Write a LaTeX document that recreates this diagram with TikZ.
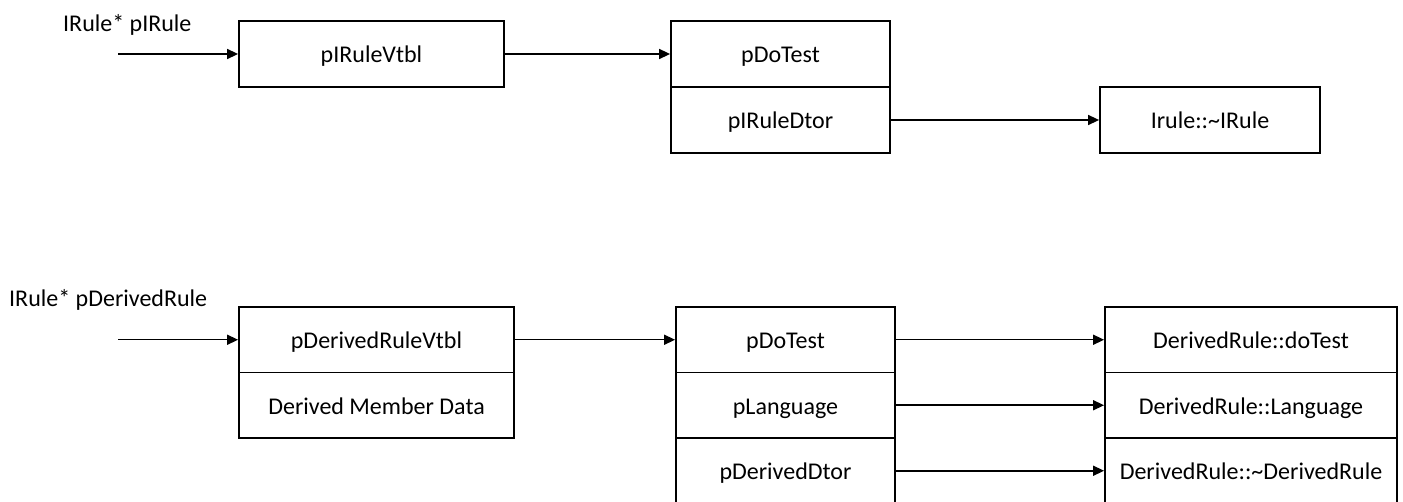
\documentclass[tikz,border=0pt]{standalone}
\usepackage{fontspec}
\setmainfont{Carlito}
\usetikzlibrary{arrows.meta}
\begin{document}
\begin{tikzpicture}[x=1pt,y=-1pt,
  cell/.style={draw,line width=1.8pt,rectangle,inner sep=0pt,minimum height=66pt,
    text height=20pt,text depth=2pt,font=\fontsize{24}{28}\selectfont},
  cellb/.style={cell,minimum height=65.5pt},
  ptr/.style={line width=1.5pt,-{Triangle[length=11pt,width=10pt]}},
  lbl/.style={inner sep=0pt,anchor=base west,font=\fontsize{24}{28}\selectfont}]
\useasboundingbox[fill=white] (0,0) rectangle (1403,502);

% base-class object and its vtable
\node[lbl] (l1) at (63,32) {IRule* pIRule};
\coordinate (s1) at (118,54);
\node[cell,minimum width=265pt] (vt1) at (371.5,54) {pIRuleVtbl};
\node[cell,minimum width=219pt] (dt1) at (780.5,54) {pDoTest};
\node[cell,minimum width=219pt] (dd1) at (780.5,120) {pIRuleDtor};
\node[cell,minimum width=220pt] (ir) at (1210,120) {Irule::\textasciitilde IRule};

\draw[ptr] (s1) -- (vt1.west);
\draw[ptr] (vt1.east) -- (dt1.west);
\draw[ptr] (dd1.east) -- (ir.west);

% derived-class object and its vtable
\node[lbl] (l2) at (9,306.5) {IRule* pDerivedRule};
\coordinate (s2) at (118,339.75);
\node[cellb,minimum width=275pt] (vt2) at (376.5,339.75) {pDerivedRuleVtbl};
\node[cellb,minimum width=275pt] (dm2) at (376.5,405.25) {Derived Member Data};

\node[cellb,minimum width=219pt] (dt2) at (785.5,339.75) {pDoTest};
\node[cellb,minimum width=219pt] (lg2) at (785.5,405.25) {pLanguage};
\node[cellb,minimum width=219pt] (dd2) at (785.5,470.75) {pDerivedDtor};

\node[cellb,minimum width=292pt] (fdt) at (1251,339.75) {DerivedRule::doTest};
\node[cellb,minimum width=292pt] (flg) at (1251,405.25) {DerivedRule::Language};
\node[cellb,minimum width=292pt] (fdd) at (1251,470.75) {DerivedRule::\textasciitilde DerivedRule};

\draw[ptr] (s2) -- (vt2.west);
\draw[ptr] (vt2.east) -- (dt2.west);
\draw[ptr] (dt2.east) -- (fdt.west);
\draw[ptr] (lg2.east) -- (flg.west);
\draw[ptr] (dd2.east) -- (fdd.west);
\end{tikzpicture}
\end{document}
